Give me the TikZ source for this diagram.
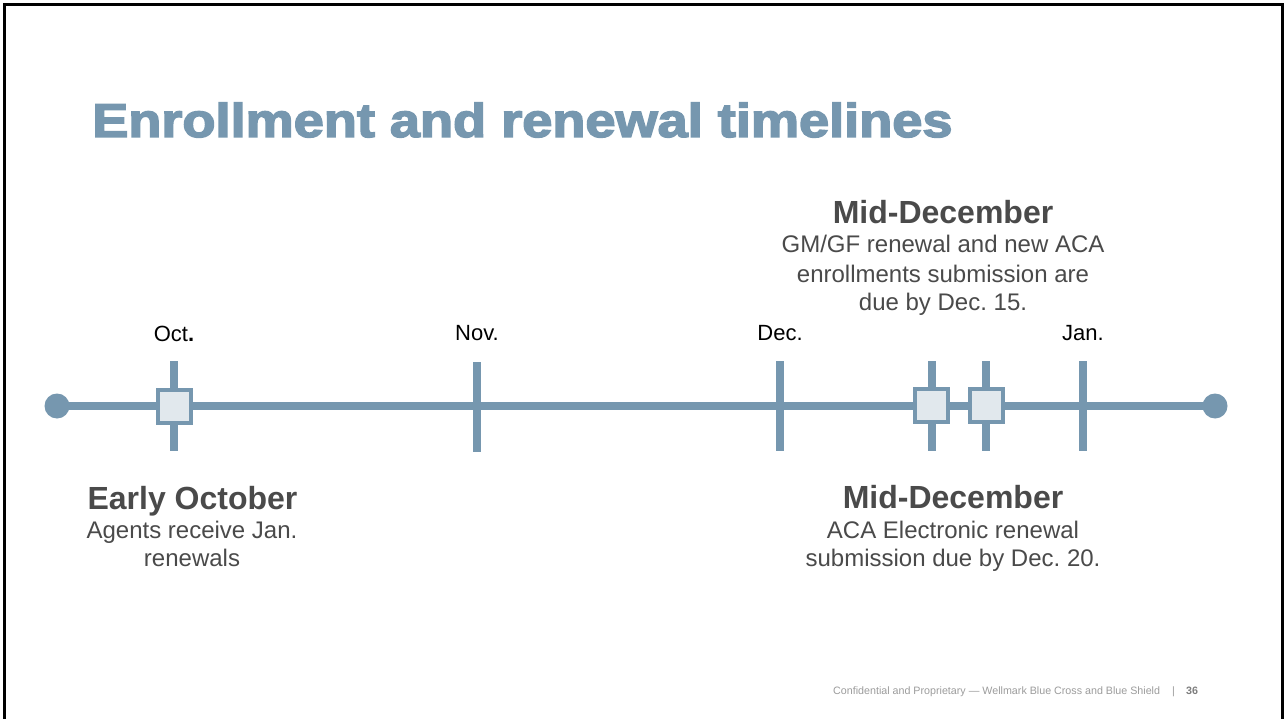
\documentclass[tikz,border=0pt]{standalone}
\usepackage{fontspec}
\setmainfont{Liberation Sans}
\newfontfamily\titlefont[FakeBold=3]{Liberation Sans Bold}
\usepackage{graphicx}
\frenchspacing

\definecolor{steel}{HTML}{7697AF}
\definecolor{steelpale}{HTML}{E1E8ED}
\definecolor{ink}{HTML}{4A4A4A}
\definecolor{footgrey}{HTML}{9C9C9C}

\tikzset{
  endcap/.style={circle, fill=steel, inner sep=0pt, minimum size=25pt},
  tickmark/.style={rectangle, fill=steel, inner sep=0pt, minimum width=8pt, minimum height=90pt},
  eventbox/.style={rectangle, draw=steel, line width=4pt, fill=steelpale, inner sep=0pt, minimum size=33pt},
  month/.style={anchor=base, text=black, font=\fontsize{22}{26}\selectfont, inner sep=0pt},
  evhead/.style={anchor=base, text=ink, font=\fontsize{32}{38}\selectfont\bfseries, inner sep=0pt},
  evbody/.style={anchor=base, text=ink, font=\fontsize{24}{29}\selectfont, inner sep=0pt},
  foot/.style={anchor=base west, text=footgrey, font=\fontsize{10.7}{12}\selectfont, inner sep=0pt}
}

\begin{document}
\begin{tikzpicture}[x=1pt, y=-1pt]
  \useasboundingbox (0,0) rectangle (1284,719);
  \fill[white] (0,0) rectangle (1284,719);

  % slide frame
  \draw[black, line width=3pt] (4.7,4.7) -- (1282.6,4.7) -- (1282.6,740);
  \draw[black, line width=3pt] (4.7,3.2) -- (4.7,740);

  % title
  \node[anchor=base west, inner sep=0pt, text=steel] (title) at (92,137)
    {\resizebox{860pt}{34.5pt}{\titlefont Enrollment and renewal timelines}};

  % timeline axis
  \node[endcap] (start) at (57,406) {};
  \node[endcap] (stop) at (1215,406) {};
  \draw[steel, line width=8pt] (start.center) -- (stop.center);

  % month ticks and event ticks
  \node[tickmark] (tOct) at (174,406) {};
  \node[tickmark] (tNov) at (477,407) {};
  \node[tickmark] (tDec) at (780,405.5) {};
  \node[tickmark] (tJan) at (1083,405.5) {};
  \node[tickmark] (tDecA) at (931.5,405.5) {};
  \node[tickmark] (tDecB) at (986,405.5) {};

  % event markers
  \node[eventbox] (bOct) at (tOct) {};
  \node[eventbox] (bDecA) at (tDecA) {};
  \node[eventbox] (bDecB) at (tDecB) {};

  % month labels
  \node[month] (lOct) at (174,341) {Oct\textbf{.}};
  \node[month] (lNov) at (477,340) {Nov.};
  \node[month] (lDec) at (780,340) {Dec.};
  \node[month] (lJan) at (1083,340) {Jan.};

  % mid-December, Dec. 15 deadline
  \node[evhead] (hA) at (943,224) {Mid-December};
  \node[evbody] (aA) at (943,253) {GM/GF renewal and new ACA};
  \node[evbody] (aB) at (943,282) {enrollments submission are};
  \node[evbody] (aC) at (943,310.5) {due by Dec. 15.};

  % early October
  \node[evhead] (hO) at (192.5,509) {Early October};
  \node[evbody] (oA) at (192,538) {Agents receive Jan.};
  \node[evbody] (oB) at (192,566.5) {renewals};

  % mid-December, Dec. 20 deadline
  \node[evhead] (hB) at (953,508) {Mid-December};
  \node[evbody] (bA) at (953,538) {ACA Electronic renewal};
  \node[evbody] (bB) at (953,566.5) {submission due by Dec. 20.};

  % footer
  \node[foot] (conf) at (833,694) {Confidential and Proprietary \textemdash{} Wellmark Blue Cross and Blue Shield};
  \node[foot] (bar) at (1172,694) {|};
  \node[foot, text=footgrey!80!black, font=\fontsize{10.7}{12}\selectfont\bfseries] (page) at (1186,694) {36};
\end{tikzpicture}
\end{document}
